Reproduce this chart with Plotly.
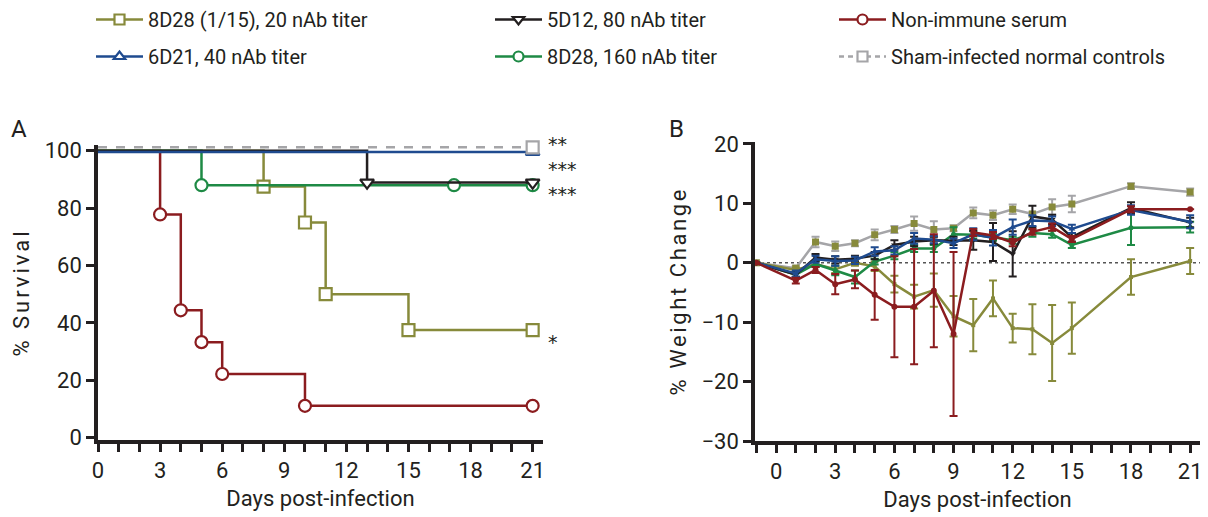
import plotly.graph_objects as go

FONT = "Roboto, sans-serif"
INK = "#231f20"

# ---------- colours ----------
C_OLIVE = "#878a3b"
C_BLUE = "#1f4b8f"
C_BLACK = "#231f20"
C_GREEN = "#1e8a45"
C_RED = "#8b1c1f"
C_GRAY = "#a5a5a8"

names = ["8D28 (1/15), 20 nAb titer", "6D21, 40 nAb titer", "5D12, 80 nAb titer",
         "8D28, 160 nAb titer", "Non-immune serum", "Sham-infected normal controls"]

# ---------- Panel A: Kaplan-Meier survival ----------
km_olive_days = [0, 8, 10, 11, 15, 21]
km_olive_surv = [100, 87.5, 75, 50, 37.5, 37.5]
km_blue_days = [0, 21]
km_blue_surv = [99.6, 99.6]
km_black_days = [0, 13, 21]
km_black_surv = [100, 88.9, 88.9]
km_green_days = [0, 5, 17.2, 21]
km_green_surv = [100, 88.0, 88.0, 88.0]
km_red_days = [0, 3, 4, 5, 6, 10, 21]
km_red_surv = [100, 77.8, 44.4, 33.3, 22.2, 11.1, 11.1]
km_sham_days = [0, 21]
km_sham_surv = [101.2, 101.2]

# significance labels at the end of the survival curves
sig_labels = ["**", "***", "***", "*"]

# ---------- Panel B: weight change ----------
wt_days = [-1, 1, 2, 3, 4, 5, 6, 7, 8, 9, 10, 11, 12, 13, 14, 15, 18, 21]
wt_sham = [0, -0.9, 3.5, 2.8, 3.3, 4.7, 5.6, 6.6, 5.6, 5.8, 8.4, 8.0, 9.0, 8.2, 9.4, 9.9, 12.9, 11.9]
wt_sham_err = [None, 0.4, 0.9, 0.8, 0.5, 0.9, 0.6, 1.2, 1.4, 0.5, 0.9, 0.8, 0.8, 0.4, 1.3, 1.4, 0.5, 0.6]
wt_olive = [0, -1.2, -0.2, -1.1, 0.0, -0.6, -3.6, -5.7, -4.6, -9.0, -10.5, -6.0, -11.0, -11.2, -13.5, -11.0, -2.4, 0.3]
wt_olive_err = [None, 0.4, 0.4, 0.6, 0.5, 0.8, 1.4, 2.0, 2.8, 3.4, 4.4, 3.0, 2.4, 4.2, 6.4, 4.3, 3.0, 2.2]
wt_green = [0, -2.0, -0.2, -1.3, -2.4, 0.2, 1.2, 2.4, 2.4, 4.8, 4.7, 4.3, 3.8, 5.0, 4.8, 3.0, 5.9, 6.0]
wt_green_err = [None, 0.4, 0.5, 0.8, 1.1, 0.5, 0.6, 0.6, 0.6, 1.2, 0.6, 0.6, 0.6, 0.6, 0.6, 0.5, 2.9, 0.9]
wt_black = [0, -2.0, 0.9, 0.5, 0.7, 1.2, 3.0, 3.6, 3.8, 3.7, 3.8, 3.5, 1.5, 7.8, 7.3, 4.3, 9.2, 6.8]
wt_black_err = [None, 0.4, 0.6, 0.6, 0.5, 0.6, 0.8, 0.8, 0.6, 0.7, 1.6, 3.2, 3.8, 1.8, 0.8, 0.7, 1.0, 0.8]
wt_blue = [0, -1.8, 0.6, 0.3, 0.4, 1.9, 2.1, 4.1, 3.9, 3.3, 4.8, 4.2, 6.0, 7.1, 7.0, 5.7, 8.9, 6.9]
wt_blue_err = [None, 0.5, 0.6, 0.8, 0.6, 0.7, 0.7, 0.9, 0.6, 0.8, 1.0, 1.3, 1.3, 0.9, 0.8, 0.7, 0.8, 1.1]
wt_red = [0, -3.0, -1.2, -3.6, -2.8, -5.4, -7.4, -7.4, -4.7, -12.0, 5.1, 4.6, 3.4, 5.2, 6.0, 4.0, 9.0, 9.0]
wt_red_err = [None, 0.5, 0.5, 1.7, 1.5, 4.2, 8.5, 9.7, 9.5, 13.8, 0.6, 0.6, 0.6, 0.5, 0.6, 0.5, 0.5, None]

surv_ticks = [0, 20, 40, 60, 80, 100]
wt_ticks = [-30, -20, -10, 0, 10, 20]
day_ticks = [0, 3, 6, 9, 12, 15, 18, 21]

fig = go.Figure()

MS = 12


def km_trace(days, surv, color, symbol, dash="solid"):
    sizes = [0] + [MS] * (len(days) - 1)
    return go.Scatter(
        x=days, y=surv, mode="lines+markers", line=dict(shape="hv", color=color, width=2.5, dash=dash),
        marker=dict(symbol=symbol, size=sizes, color="white", opacity=1,
                    line=dict(color=color, width=2.2)),
        showlegend=False, xaxis="x", yaxis="y", cliponaxis=False)


fig.add_trace(km_trace(km_red_days, km_red_surv, C_RED, "circle"))
fig.add_trace(km_trace(km_olive_days, km_olive_surv, C_OLIVE, "square"))
fig.add_trace(km_trace(km_green_days, km_green_surv, C_GREEN, "circle"))
fig.add_trace(km_trace(km_black_days, km_black_surv, C_BLACK, "triangle-down"))
fig.add_trace(km_trace(km_blue_days, km_blue_surv, C_BLUE, "triangle-up"))
fig.add_trace(km_trace(km_sham_days, km_sham_surv, C_GRAY, "square", dash="dash"))


def wt_trace(y, err, color, mcolor, symbol, size):
    return go.Scatter(
        x=wt_days, y=y, mode="lines+markers", line=dict(color=color, width=2.5),
        marker=dict(symbol=symbol, size=size, color=mcolor, opacity=1),
        error_y=dict(type="data", array=err, symmetric=True, color=color, thickness=2, width=4),
        showlegend=False, xaxis="x2", yaxis="y2")


fig.add_trace(wt_trace(wt_sham, wt_sham_err, C_GRAY, C_OLIVE, "square", 7))
fig.add_trace(wt_trace(wt_olive, wt_olive_err, C_OLIVE, C_OLIVE, "square", 4))
fig.add_trace(wt_trace(wt_green, wt_green_err, C_GREEN, C_GREEN, "circle", 5))
fig.add_trace(wt_trace(wt_black, wt_black_err, C_BLACK, C_BLACK, "triangle-down", 6))
fig.add_trace(wt_trace(wt_blue, wt_blue_err, C_BLUE, C_BLUE, "triangle-up", 6))
fig.add_trace(wt_trace(wt_red, wt_red_err, C_RED, C_RED, "circle", 6))

# ---------- legend entries ----------
leg_specs = [
    (names[0], C_OLIVE, "square", "solid", "legend"),
    (names[1], C_BLUE, "triangle-up", "solid", "legend"),
    (names[2], C_BLACK, "triangle-down", "solid", "legend2"),
    (names[3], C_GREEN, "circle", "solid", "legend2"),
    (names[4], C_RED, "circle", "solid", "legend3"),
    (names[5], C_GRAY, "square", "5px,4px", "legend3"),
]
for i, (nm, col, sym, dash, lg) in enumerate(leg_specs):
    fig.add_trace(go.Scatter(
        x=[None], y=[None], mode="lines+markers", name=nm, legend=lg, legendgroup="g%d" % i,
        line=dict(color=col, width=2.5, dash=dash),
        marker=dict(symbol=sym, size=10, color="white", opacity=1, line=dict(color=col, width=2.2)),
        xaxis="x", yaxis="y"))

W, H = 1208, 517


def px_x(p):
    return p / W


def px_y(p):
    return 1 - p / H


axis_common = dict(showline=True, linewidth=3.5, linecolor=INK, ticks="outside", ticklen=8,
                   tickwidth=3, tickcolor=INK, showgrid=False, zeroline=False, automargin=False,
                   tickfont=dict(size=22, color=INK, family=FONT))

leg_common = dict(orientation="v", yanchor="top", xanchor="left", tracegroupgap=8, itemwidth=47,
                  font=dict(size=20, color=INK, family=FONT), bgcolor="rgba(0,0,0,0)",
                  borderwidth=0, itemclick=False, itemdoubleclick=False)

TITLE_FONT = dict(size=22, color=INK, family=FONT)

fig.update_layout(
    template="none",
    width=W, height=H, margin=dict(l=0, r=0, t=0, b=0, pad=0, autoexpand=False),
    plot_bgcolor="white", paper_bgcolor="white",
    font=dict(family=FONT, color=INK),
    xaxis=dict(domain=[px_x(98), px_x(543)], range=[0, 21.5], anchor="y",
               tickmode="array", tickvals=day_ticks,
               minor=dict(dtick=1, tick0=0, ticklen=8, tickwidth=3, tickcolor=INK, ticks="outside"),
               title=dict(text="Days post-infection", font=TITLE_FONT, standoff=9),
               **axis_common),
    yaxis=dict(domain=[px_y(440), px_y(145)], range=[-0.8, 102], anchor="x",
               tickmode="array", tickvals=surv_ticks,
               title=dict(text="% Survival", font=TITLE_FONT, standoff=10),
               **axis_common),
    xaxis2=dict(domain=[px_x(755), px_x(1200)], range=[-1.07, 21.5], anchor="y2",
                tickmode="array", tickvals=day_ticks,
                minor=dict(dtick=1, tick0=0, ticklen=8, tickwidth=3, tickcolor=INK, ticks="outside"),
                title=dict(text="Days post-infection", font=TITLE_FONT, standoff=9),
                **axis_common),
    yaxis2=dict(domain=[px_y(441), px_y(141.6)], range=[-30, 20.4], anchor="x2",
                tickmode="array", tickvals=wt_ticks,
                title=dict(text="% Weight Change", font=TITLE_FONT, standoff=10),
                **axis_common),
    legend=dict(x=px_x(91), y=px_y(0), **leg_common),
    legend2=dict(x=px_x(490), y=px_y(0), **leg_common),
    legend3=dict(x=px_x(834), y=px_y(0), **leg_common),
)

# zero reference line in panel B
fig.add_shape(type="line", xref="x2 domain", yref="y2", x0=0, x1=1, y0=0, y1=0,
              line=dict(color="#555555", width=1.5, dash="dot"), layer="below")

# panel letters
for letter, xp in [("A", 19), ("B", 677)]:
    fig.add_annotation(text=letter, xref="paper", yref="paper", x=px_x(xp), y=px_y(129),
                       xanchor="center", yanchor="middle",
                       showarrow=False, font=dict(size=24, color=INK, family=FONT))

# significance stars (label positions in pixels)
for txt, ypx in zip(sig_labels, [144, 169, 194, 342]):
    fig.add_annotation(text=txt, xref="paper", yref="paper", x=px_x(546), y=px_y(ypx),
                       xanchor="left", yanchor="middle",
                       showarrow=False, font=dict(size=19, color=INK, family="DejaVu Sans, sans-serif"))

post = """
document.body.style.margin='0';
document.body.style.overflow='hidden';
document.querySelectorAll('.ytitle').forEach(function(e){e.style.letterSpacing='3px';});
document.querySelectorAll('.y2title').forEach(function(e){e.style.letterSpacing='2.6px';});
"""
fig.write_html("out.html", post_script=post, config={"displayModeBar": False})
